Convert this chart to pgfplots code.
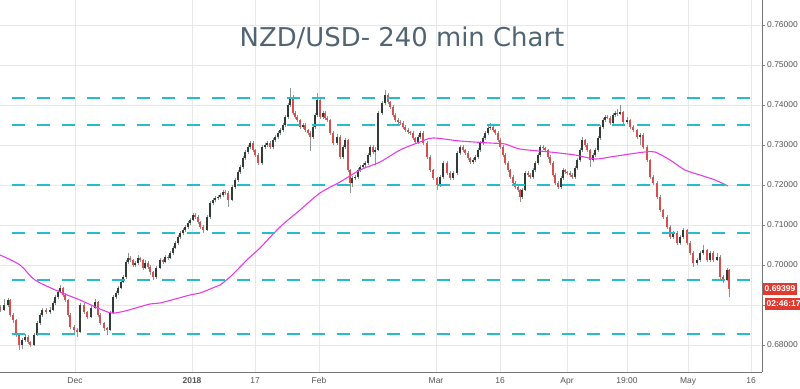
\documentclass[border=0pt]{standalone}
\usepackage{pgfplots}
\pgfplotsset{compat=1.18}
\usepackage{pgfplotstable}
\usepackage{fontspec}
\setmainfont{Liberation Sans}
\newfontfamily\titlefont{DejaVu Sans}
\definecolor{gridc}{RGB}{232,232,232}
\definecolor{lvl}{RGB}{38,188,204}
\definecolor{ma}{RGB}{230,60,230}
\definecolor{upc}{RGB}{50,60,55}
\definecolor{dnc}{RGB}{214,80,80}
\definecolor{wick}{RGB}{140,150,145}
\definecolor{tickc}{RGB}{85,85,85}
\definecolor{ttl}{RGB}{80,100,115}
\definecolor{tag}{RGB}{224,58,46}

\pgfplotstableread{
x o h l c
0 0.68950 0.69000 0.68830 0.68875
4 0.68875 0.69150 0.68850 0.69000
8 0.69000 0.69180 0.68960 0.69125
10 0.69125 0.69150 0.68700 0.68750
13 0.68750 0.68800 0.68560 0.68625
16 0.68625 0.68660 0.68200 0.68250
19 0.68250 0.68300 0.67875 0.68000
22 0.68000 0.68180 0.67900 0.68125
25 0.68125 0.68280 0.68080 0.68200
28 0.68200 0.68240 0.68020 0.68075
30 0.68075 0.68110 0.67940 0.68000
34 0.68000 0.68300 0.67970 0.68250
37 0.68250 0.68600 0.68220 0.68550
40 0.68550 0.68800 0.68500 0.68750
42 0.68750 0.68930 0.68710 0.68875
46 0.68875 0.68920 0.68770 0.68825
50 0.68825 0.68940 0.68780 0.68875
53 0.68875 0.69100 0.68840 0.69050
55 0.69050 0.69250 0.69010 0.69200
58 0.69200 0.69380 0.69160 0.69325
60 0.69325 0.69500 0.69290 0.69425
63 0.69425 0.69460 0.69200 0.69250
65 0.69250 0.69290 0.69080 0.69125
68 0.69125 0.69160 0.68700 0.68750
70 0.68750 0.68790 0.68400 0.68450
74 0.68450 0.68490 0.68300 0.68375
77 0.68375 0.68420 0.68200 0.68325
80 0.68325 0.69060 0.68300 0.69000
84 0.69000 0.69050 0.68780 0.68825
87 0.68825 0.68860 0.68640 0.68700
91 0.68700 0.68980 0.68670 0.68925
95 0.68925 0.69140 0.68890 0.69075
98 0.69075 0.69100 0.68700 0.68750
100 0.68750 0.68790 0.68500 0.68550
104 0.68550 0.68580 0.68360 0.68425
107 0.68425 0.68460 0.68250 0.68375
110 0.68375 0.68850 0.68340 0.68800
113 0.68800 0.69250 0.68770 0.69200
116 0.69200 0.69360 0.69150 0.69300
118 0.69300 0.69480 0.69260 0.69425
121 0.69425 0.69630 0.69390 0.69575
123 0.69575 0.69760 0.69540 0.69700
126 0.69700 0.70130 0.69660 0.70075
128 0.70075 0.70300 0.70030 0.70175
130 0.70175 0.70220 0.70080 0.70125
133 0.70125 0.70160 0.69950 0.70000
135 0.70000 0.70110 0.69960 0.70050
138 0.70050 0.70240 0.70010 0.70175
140 0.70175 0.70210 0.70080 0.70125
143 0.70125 0.70160 0.69880 0.69925
145 0.69925 0.70120 0.69890 0.70050
148 0.70050 0.70090 0.69900 0.69950
150 0.69950 0.69990 0.69760 0.69825
153 0.69825 0.69860 0.69620 0.69700
156 0.69700 0.69980 0.69660 0.69925
160 0.69925 0.70180 0.69890 0.70125
163 0.70125 0.70160 0.70020 0.70075
165 0.70075 0.70260 0.70040 0.70200
168 0.70200 0.70240 0.70130 0.70175
170 0.70175 0.70360 0.70140 0.70300
173 0.70300 0.70480 0.70260 0.70425
175 0.70425 0.70610 0.70390 0.70550
178 0.70550 0.70760 0.70510 0.70700
180 0.70700 0.70860 0.70660 0.70800
183 0.70800 0.70930 0.70760 0.70875
185 0.70875 0.71010 0.70830 0.70950
188 0.70950 0.71110 0.70910 0.71050
190 0.71050 0.71180 0.71000 0.71125
193 0.71125 0.71310 0.71090 0.71250
195 0.71250 0.71300 0.71150 0.71200
198 0.71200 0.71240 0.71030 0.71075
200 0.71075 0.71110 0.70900 0.70950
203 0.70950 0.70990 0.70800 0.70875
207 0.70875 0.71260 0.70840 0.71200
210 0.71200 0.71610 0.71160 0.71550
213 0.71550 0.71680 0.71500 0.71625
215 0.71625 0.71730 0.71580 0.71675
218 0.71675 0.71760 0.71630 0.71700
220 0.71700 0.71810 0.71650 0.71750
223 0.71750 0.71880 0.71700 0.71825
225 0.71825 0.71870 0.71750 0.71800
228 0.71800 0.71840 0.71450 0.71625
232 0.71625 0.72010 0.71590 0.71950
235 0.71950 0.72180 0.71910 0.72125
238 0.72125 0.72380 0.72080 0.72325
240 0.72325 0.72510 0.72280 0.72450
243 0.72450 0.72730 0.72410 0.72675
245 0.72675 0.72880 0.72630 0.72825
248 0.72825 0.73010 0.72780 0.72950
250 0.72950 0.73110 0.72910 0.73050
253 0.73050 0.73090 0.72820 0.72875
255 0.72875 0.72910 0.72700 0.72750
258 0.72750 0.72790 0.72500 0.72550
262 0.72550 0.73010 0.72510 0.72950
265 0.72950 0.73060 0.72900 0.73000
267 0.73000 0.73110 0.72950 0.73050
270 0.73050 0.73090 0.72900 0.72950
273 0.72950 0.73180 0.72910 0.73125
275 0.73125 0.73260 0.73080 0.73200
278 0.73200 0.73360 0.73160 0.73300
280 0.73300 0.73430 0.73250 0.73375
283 0.73375 0.73560 0.73330 0.73500
285 0.73500 0.73760 0.73460 0.73700
288 0.73700 0.74060 0.73660 0.74000
290 0.74000 0.74425 0.73960 0.74200
293 0.74200 0.74240 0.73760 0.73800
295 0.73800 0.73840 0.73650 0.73700
297 0.73700 0.73750 0.73580 0.73625
300 0.73625 0.73660 0.73400 0.73450
303 0.73450 0.73560 0.73400 0.73500
305 0.73500 0.73540 0.73320 0.73375
308 0.73375 0.73410 0.73250 0.73300
310 0.73300 0.73340 0.72850 0.73200
313 0.73200 0.73500 0.73160 0.73450
315 0.73450 0.73800 0.73410 0.73750
317 0.73750 0.74300 0.73710 0.74125
320 0.74125 0.74160 0.73650 0.73700
323 0.73700 0.73860 0.73650 0.73800
325 0.73800 0.73840 0.73620 0.73675
327 0.73675 0.73720 0.73580 0.73625
330 0.73625 0.73660 0.73250 0.73300
333 0.73300 0.73340 0.72990 0.73050
337 0.73050 0.73270 0.73010 0.73200
340 0.73200 0.73240 0.72650 0.72700
343 0.72700 0.73010 0.72660 0.72950
345 0.72950 0.73180 0.72900 0.73125
348 0.73125 0.73160 0.72320 0.72375
350 0.72375 0.72410 0.71800 0.72050
352 0.72050 0.72230 0.71950 0.72175
355 0.72175 0.72260 0.72120 0.72200
358 0.72200 0.72430 0.72150 0.72375
360 0.72375 0.72510 0.72330 0.72450
363 0.72450 0.72560 0.72400 0.72500
365 0.72500 0.72610 0.72450 0.72550
368 0.72550 0.72810 0.72510 0.72750
370 0.72750 0.73010 0.72700 0.72950
373 0.72950 0.72990 0.72770 0.72825
375 0.72825 0.72940 0.72500 0.72875
378 0.72875 0.73860 0.72840 0.73800
382 0.73800 0.74110 0.73760 0.74050
385 0.74050 0.74375 0.74000 0.74250
388 0.74250 0.74290 0.74030 0.74075
390 0.74075 0.74110 0.73900 0.73950
393 0.73950 0.73990 0.73700 0.73750
395 0.73750 0.73790 0.73580 0.73625
398 0.73625 0.73670 0.73520 0.73575
400 0.73575 0.73620 0.73500 0.73550
403 0.73550 0.73590 0.73400 0.73450
405 0.73450 0.73490 0.73320 0.73375
408 0.73375 0.73420 0.73270 0.73325
410 0.73325 0.73360 0.73250 0.73300
413 0.73300 0.73340 0.73120 0.73175
415 0.73175 0.73210 0.73020 0.73075
418 0.73075 0.73260 0.73030 0.73200
420 0.73200 0.73360 0.73160 0.73300
423 0.73300 0.73340 0.73000 0.73050
427 0.73050 0.73090 0.72650 0.72700
430 0.72700 0.72740 0.72320 0.72375
433 0.72375 0.72410 0.72120 0.72175
437 0.72175 0.72210 0.71875 0.72000
440 0.72000 0.72260 0.71960 0.72200
443 0.72200 0.72610 0.72160 0.72550
447 0.72550 0.72590 0.72250 0.72300
450 0.72300 0.72340 0.72120 0.72175
453 0.72175 0.72360 0.72130 0.72300
457 0.72300 0.72860 0.72260 0.72800
460 0.72800 0.73010 0.72760 0.72950
463 0.72950 0.72990 0.72820 0.72875
465 0.72875 0.72910 0.72750 0.72800
468 0.72800 0.72840 0.72620 0.72675
470 0.72675 0.72710 0.72520 0.72575
473 0.72575 0.72680 0.72530 0.72625
475 0.72625 0.72760 0.72580 0.72700
478 0.72700 0.72930 0.72660 0.72875
480 0.72875 0.73110 0.72830 0.73050
483 0.73050 0.73230 0.73010 0.73175
485 0.73175 0.73360 0.73130 0.73300
488 0.73300 0.73520 0.73260 0.73425
490 0.73425 0.73550 0.73380 0.73450
493 0.73450 0.73490 0.73320 0.73375
495 0.73375 0.73410 0.73250 0.73300
498 0.73300 0.73340 0.73070 0.73125
500 0.73125 0.73170 0.72900 0.72950
503 0.72950 0.72990 0.72700 0.72750
505 0.72750 0.72790 0.72500 0.72550
508 0.72550 0.72590 0.72320 0.72375
510 0.72375 0.72410 0.72150 0.72200
513 0.72200 0.72240 0.72000 0.72050
515 0.72050 0.72090 0.71900 0.71950
518 0.71950 0.71990 0.71820 0.71875
520 0.71875 0.71910 0.71575 0.71700
522 0.71700 0.71930 0.71650 0.71875
525 0.71875 0.72360 0.71840 0.72300
528 0.72300 0.72340 0.72200 0.72250
530 0.72250 0.72290 0.72150 0.72200
533 0.72200 0.72430 0.72160 0.72375
535 0.72375 0.72610 0.72330 0.72550
538 0.72550 0.72810 0.72510 0.72750
540 0.72750 0.73010 0.72700 0.72950
543 0.72950 0.73000 0.72870 0.72925
545 0.72925 0.72960 0.72820 0.72875
548 0.72875 0.72910 0.72650 0.72700
550 0.72700 0.72740 0.72500 0.72550
553 0.72550 0.72590 0.72200 0.72250
555 0.72250 0.72290 0.72000 0.72050
558 0.72050 0.72090 0.71900 0.71950
561 0.71950 0.72230 0.71910 0.72175
563 0.72175 0.72430 0.72130 0.72375
565 0.72375 0.72410 0.72270 0.72325
567 0.72325 0.72360 0.72250 0.72300
570 0.72300 0.72340 0.72200 0.72250
572 0.72250 0.72290 0.72150 0.72200
575 0.72200 0.72480 0.72160 0.72425
577 0.72425 0.72680 0.72380 0.72625
580 0.72625 0.72930 0.72580 0.72875
582 0.72875 0.73200 0.72830 0.73125
585 0.73125 0.73160 0.72950 0.73000
587 0.73000 0.73040 0.72820 0.72875
590 0.72875 0.72910 0.72450 0.72625
593 0.72625 0.72810 0.72580 0.72750
595 0.72750 0.72930 0.72700 0.72875
598 0.72875 0.73230 0.72830 0.73175
600 0.73175 0.73510 0.73130 0.73450
603 0.73450 0.73680 0.73400 0.73625
605 0.73625 0.73760 0.73580 0.73700
607 0.73700 0.73760 0.73640 0.73680
610 0.73680 0.73720 0.73500 0.73550
613 0.73550 0.73810 0.73510 0.73750
615 0.73750 0.73860 0.73700 0.73800
617 0.73800 0.73900 0.73730 0.73780
620 0.73780 0.74000 0.73740 0.73825
623 0.73825 0.73860 0.73520 0.73575
627 0.73575 0.73700 0.73530 0.73625
630 0.73625 0.73660 0.73400 0.73450
633 0.73450 0.73490 0.73320 0.73375
637 0.73375 0.73410 0.73150 0.73200
640 0.73200 0.73310 0.73000 0.73250
643 0.73250 0.73290 0.72900 0.72950
647 0.72950 0.72990 0.72570 0.72625
650 0.72625 0.72660 0.72150 0.72200
653 0.72200 0.72240 0.72000 0.72050
657 0.72050 0.72090 0.71650 0.71700
660 0.71700 0.71740 0.71320 0.71375
663 0.71375 0.71410 0.71150 0.71200
667 0.71200 0.71240 0.70900 0.70950
670 0.70950 0.70990 0.70650 0.70700
673 0.70700 0.70860 0.70660 0.70800
677 0.70800 0.70840 0.70500 0.70550
680 0.70550 0.70760 0.70510 0.70700
683 0.70700 0.70930 0.70660 0.70875
687 0.70875 0.70910 0.70500 0.70550
690 0.70550 0.70590 0.70250 0.70300
693 0.70300 0.70340 0.69950 0.70050
697 0.70050 0.70180 0.70000 0.70125
700 0.70125 0.70360 0.70080 0.70300
703 0.70300 0.70500 0.70260 0.70375
707 0.70375 0.70410 0.70080 0.70125
710 0.70125 0.70360 0.70080 0.70300
713 0.70300 0.70340 0.70080 0.70125
717 0.70125 0.70300 0.70090 0.70200
720 0.70200 0.70240 0.69650 0.69700
723 0.69700 0.69740 0.69550 0.69625
727 0.69625 0.69930 0.69590 0.69875
729 0.69875 0.69900 0.69200 0.69399
}\candles

\pgfplotstableread{
x ma
0 0.70250
20 0.70000
35 0.69625
60 0.69325
80 0.69125
100 0.68900
112 0.68800
125 0.68850
150 0.69025
160 0.69050
190 0.69250
200 0.69300
215 0.69450
220 0.69500
230 0.69700
240 0.69950
250 0.70200
260 0.70425
280 0.70950
300 0.71375
320 0.71800
340 0.72075
360 0.72375
380 0.72575
400 0.72875
420 0.73075
433 0.73175
460 0.73100
490 0.73050
505 0.73025
520 0.72900
550 0.72825
575 0.72750
595 0.72650
610 0.72700
630 0.72775
645 0.72825
655 0.72825
670 0.72625
685 0.72375
700 0.72250
715 0.72125
728 0.71975
}\matable

\begin{document}
\begin{tikzpicture}
\useasboundingbox (0,-17bp) rectangle (800bp,372bp);
\begin{axis}[
  at={(0,0)}, anchor=south west,
  scale only axis, width=762bp, height=372bp,
  xmin=0, xmax=762, ymin=0.67325, ymax=0.76625,
  axis x line*=bottom, axis y line*=right,
  axis line style={draw=tickc!80, line width=0.8bp, -},
  xtick={75,192,255,319,436,500,567,627,688,751},
  xticklabels={Dec,\textbf{2018},17,Feb,Mar,16,Apr,19:00,May,16},
  ytick={0.68,0.69,0.70,0.71,0.72,0.73,0.74,0.75,0.76},
  yticklabels={0.68000,,0.70000,0.71000,0.72000,0.73000,0.74000,0.75000,0.76000},
  grid=major, major grid style={draw=gridc, line width=0.6bp},
  tick style={draw=tickc!70, line width=0.6bp},
  major tick length=3bp, tick align=outside,
  xtick style={draw=none},
  ticklabel style={font=\fontsize{8.5}{10}\selectfont, text=tickc},
  yticklabel style={anchor=west, inner sep=2bp},
  xticklabel style={inner sep=2.5bp},
  clip mode=individual,
]
\addplot[wick, line width=0.6bp, quiver={u=0, v=\thisrow{h}-\thisrow{l}}]
  table[x=x, y=l]{\candles};
\addplot[upc, line width=1.4bp, quiver={u=0, v=\thisrow{c}-\thisrow{o}},
  restrict expr to domain={\thisrow{c}-\thisrow{o}}{0:1}]
  table[x=x, y=o]{\candles};
\addplot[dnc, line width=1.4bp, quiver={u=0, v=\thisrow{c}-\thisrow{o}},
  restrict expr to domain={\thisrow{o}-\thisrow{c}}{0.000001:1}]
  table[x=x, y=o]{\candles};
\addplot[ma, line width=1.1bp, smooth, mark=none] table[x=x, y=ma]{\matable};
\addplot[lvl, line width=2bp, dash pattern=on 13bp off 12bp, mark=none] coordinates {(11.5,0.7418) (762,0.7418)};
\addplot[lvl, line width=2bp, dash pattern=on 13bp off 12bp, mark=none] coordinates {(11.5,0.7350) (762,0.7350)};
\addplot[lvl, line width=2bp, dash pattern=on 13bp off 12bp, mark=none] coordinates {(11.5,0.7200) (762,0.7200)};
\addplot[lvl, line width=2bp, dash pattern=on 13bp off 12bp, mark=none] coordinates {(11.5,0.7080) (762,0.7080)};
\addplot[lvl, line width=2bp, dash pattern=on 13bp off 12bp, mark=none] coordinates {(11.5,0.6962) (762,0.6962)};
\addplot[lvl, line width=2bp, dash pattern=on 13bp off 12bp, mark=none] coordinates {(11.5,0.6827) (762,0.6827)};
\node[font=\titlefont\fontsize{26}{30}\selectfont, text=ttl, anchor=base] at (axis cs:402,0.75475) {NZD/USD- 240 min Chart};
\node[fill=tag, text=white, font=\bfseries\fontsize{8.5}{10}\selectfont, anchor=west, inner sep=1.5bp, minimum height=12bp] at (axis cs:763,0.69400) {0.69399};
\node[fill=tag, text=white, font=\bfseries\fontsize{8.5}{10}\selectfont, anchor=west, inner sep=1.5bp, minimum height=12bp] at (axis cs:765,0.69025) {02:46:17};
\end{axis}
\end{tikzpicture}
\end{document}
